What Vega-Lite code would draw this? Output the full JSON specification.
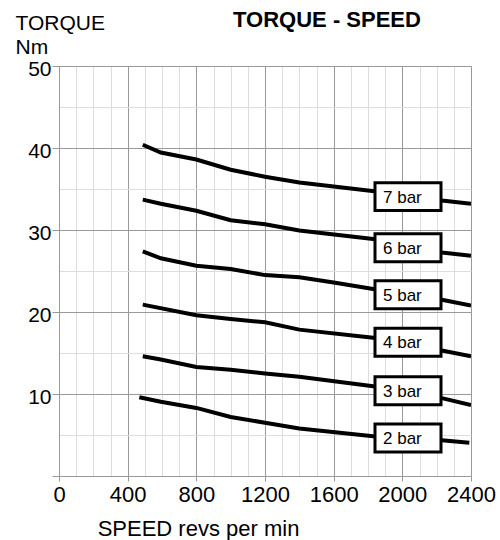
{
  "$schema": "https://vega.github.io/schema/vega-lite/v6.json",
  "width": 412,
  "height": 410,
  "autosize": {"type": "none"},
  "padding": {"left": 59, "top": 66, "right": 29, "bottom": 64},
  "background": "white",
  "config": {"view": {"stroke": null}, "font": "Liberation Sans"},
  "title": {"text": "TORQUE - SPEED", "fontSize": 22, "fontWeight": "bold", "font": "Liberation Sans", "anchor": "middle", "dx": 62, "offset": 0, "baseline": "alphabetic", "dy": 37, "color": "black"},
  "datasets": {
    "curves": [
      {"pressure": "7 bar", "speed": 488, "torque": 40.4},
      {"pressure": "7 bar", "speed": 593, "torque": 39.45},
      {"pressure": "7 bar", "speed": 800, "torque": 38.6},
      {"pressure": "7 bar", "speed": 1000, "torque": 37.35},
      {"pressure": "7 bar", "speed": 1200, "torque": 36.5},
      {"pressure": "7 bar", "speed": 1400, "torque": 35.8},
      {"pressure": "7 bar", "speed": 1850, "torque": 34.7},
      {"pressure": "7 bar", "speed": 2230, "torque": 33.6},
      {"pressure": "7 bar", "speed": 2400, "torque": 33.2},
      {"pressure": "6 bar", "speed": 488, "torque": 33.7},
      {"pressure": "6 bar", "speed": 593, "torque": 33.2},
      {"pressure": "6 bar", "speed": 800, "torque": 32.35},
      {"pressure": "6 bar", "speed": 1000, "torque": 31.2},
      {"pressure": "6 bar", "speed": 1200, "torque": 30.7},
      {"pressure": "6 bar", "speed": 1400, "torque": 29.95},
      {"pressure": "6 bar", "speed": 1830, "torque": 28.9},
      {"pressure": "6 bar", "speed": 2230, "torque": 27.25},
      {"pressure": "6 bar", "speed": 2400, "torque": 26.85},
      {"pressure": "5 bar", "speed": 488, "torque": 27.4},
      {"pressure": "5 bar", "speed": 593, "torque": 26.55},
      {"pressure": "5 bar", "speed": 800, "torque": 25.65},
      {"pressure": "5 bar", "speed": 1000, "torque": 25.25},
      {"pressure": "5 bar", "speed": 1200, "torque": 24.5},
      {"pressure": "5 bar", "speed": 1400, "torque": 24.25},
      {"pressure": "5 bar", "speed": 1600, "torque": 23.6},
      {"pressure": "5 bar", "speed": 1830, "torque": 22.8},
      {"pressure": "5 bar", "speed": 2230, "torque": 21.5},
      {"pressure": "5 bar", "speed": 2400, "torque": 20.8},
      {"pressure": "4 bar", "speed": 488, "torque": 20.9},
      {"pressure": "4 bar", "speed": 800, "torque": 19.6},
      {"pressure": "4 bar", "speed": 1000, "torque": 19.15},
      {"pressure": "4 bar", "speed": 1200, "torque": 18.75},
      {"pressure": "4 bar", "speed": 1400, "torque": 17.85},
      {"pressure": "4 bar", "speed": 1830, "torque": 16.85},
      {"pressure": "4 bar", "speed": 2230, "torque": 15.3},
      {"pressure": "4 bar", "speed": 2400, "torque": 14.6},
      {"pressure": "3 bar", "speed": 488, "torque": 14.6},
      {"pressure": "3 bar", "speed": 593, "torque": 14.2},
      {"pressure": "3 bar", "speed": 800, "torque": 13.3},
      {"pressure": "3 bar", "speed": 1000, "torque": 12.95},
      {"pressure": "3 bar", "speed": 1200, "torque": 12.5},
      {"pressure": "3 bar", "speed": 1400, "torque": 12.1},
      {"pressure": "3 bar", "speed": 1830, "torque": 10.95},
      {"pressure": "3 bar", "speed": 2230, "torque": 9.5},
      {"pressure": "3 bar", "speed": 2400, "torque": 8.65},
      {"pressure": "2 bar", "speed": 468, "torque": 9.6},
      {"pressure": "2 bar", "speed": 593, "torque": 9.05},
      {"pressure": "2 bar", "speed": 800, "torque": 8.3},
      {"pressure": "2 bar", "speed": 1000, "torque": 7.2},
      {"pressure": "2 bar", "speed": 1200, "torque": 6.5},
      {"pressure": "2 bar", "speed": 1400, "torque": 5.8},
      {"pressure": "2 bar", "speed": 1830, "torque": 4.85},
      {"pressure": "2 bar", "speed": 2230, "torque": 4.35},
      {"pressure": "2 bar", "speed": 2390, "torque": 4.05}
    ],
    "labels": [
      {"pressure": "7 bar", "speed": 2033, "torque": 34.07},
      {"pressure": "6 bar", "speed": 2033, "torque": 27.83},
      {"pressure": "5 bar", "speed": 2033, "torque": 22.1},
      {"pressure": "4 bar", "speed": 2033, "torque": 16.32},
      {"pressure": "3 bar", "speed": 2033, "torque": 10.41},
      {"pressure": "2 bar", "speed": 2033, "torque": 4.63}
    ]
  },
  "encoding": {
    "x": {
      "field": "speed", "type": "quantitative",
      "scale": {"domain": [0, 2400], "nice": false, "zero": true},
      "axis": {
        "values": [0,100,200,300,400,500,600,700,800,900,1000,1100,1200,1300,1400,1500,1600,1700,1800,1900,2000,2100,2200,2300,2400],
        "format": "d",
        "labelExpr": "datum.value % 400 === 0 ? datum.label : ''",
        "labelOverlap": false, "labelFlush": false,
        "labelFontSize": 22, "labelFont": "Liberation Sans", "labelColor": "black", "labelPadding": 3,
        "grid": true,
        "gridColor": {"condition": {"test": "datum.value % 400 === 0", "value": "#999999"}, "value": "#dddddd"},
        "gridWidth": 1,
        "tickColor": "#999999", "tickSize": 5,
        "tickOpacity": {"condition": {"test": "datum.value % 400 === 0", "value": 1}, "value": 0},
        "domainColor": "#999999", "domainWidth": 1,
        "title": "SPEED revs per min", "titleFontSize": 22, "titleFont": "Liberation Sans", "titleFontWeight": "normal", "titleColor": "black",
        "titleX": 139, "titleY": 59, "titleAlign": "center", "titleBaseline": "alphabetic", "titleAnchor": null
      }
    },
    "y": {
      "field": "torque", "type": "quantitative",
      "scale": {"domain": [0, 50], "nice": false, "zero": true},
      "axis": {
        "values": [0,5,10,15,20,25,30,35,40,45,50],
        "labelExpr": "datum.value % 10 === 0 && datum.value > 0 ? datum.label : ''",
        "labelOverlap": false, "labelFlush": false,
        "labelFontSize": 21, "labelFont": "Liberation Sans", "labelColor": "black", "labelPadding": 1,
        "labelBaseline": "middle", "labelOffset": 3,
        "grid": true,
        "gridColor": {"condition": {"test": "datum.value % 10 === 0", "value": "#999999"}, "value": "#dddddd"},
        "gridWidth": 1,
        "tickColor": "#999999", "tickSize": 7,
        "tickOpacity": {"condition": {"test": "datum.value % 10 === 0", "value": 1}, "value": 0},
        "domainColor": "#999999", "domainWidth": 1,
        "title": ["TORQUE", "Nm"], "titleAngle": 0, "titleAlign": "left", "titleBaseline": "alphabetic",
        "titleX": -44, "titleY": -37, "titleFontSize": 21, "titleLineHeight": 24, "titleFont": "Liberation Sans",
        "titleFontWeight": "normal", "titleColor": "black", "titleAnchor": null
      }
    }
  },
  "layer": [
    {
      "data": {"name": "curves"},
      "mark": {"type": "line", "color": "black", "strokeWidth": 4, "clip": true},
      "encoding": {"detail": {"field": "pressure"}, "order": {"field": "speed"}}
    },
    {
      "data": {"name": "labels"},
      "mark": {"type": "point", "shape": "M-1,-0.424H1V0.424H-1Z", "size": 4356, "filled": true, "fill": "white", "stroke": "black", "strokeWidth": 3, "opacity": 1, "fillOpacity": 1, "strokeOpacity": 1}
    },
    {
      "data": {"name": "labels"},
      "mark": {"type": "text", "align": "left", "baseline": "middle", "dx": -25, "dy": 1, "fontSize": 17, "font": "Liberation Sans", "color": "black"},
      "encoding": {"text": {"field": "pressure"}}
    }
  ]
}
